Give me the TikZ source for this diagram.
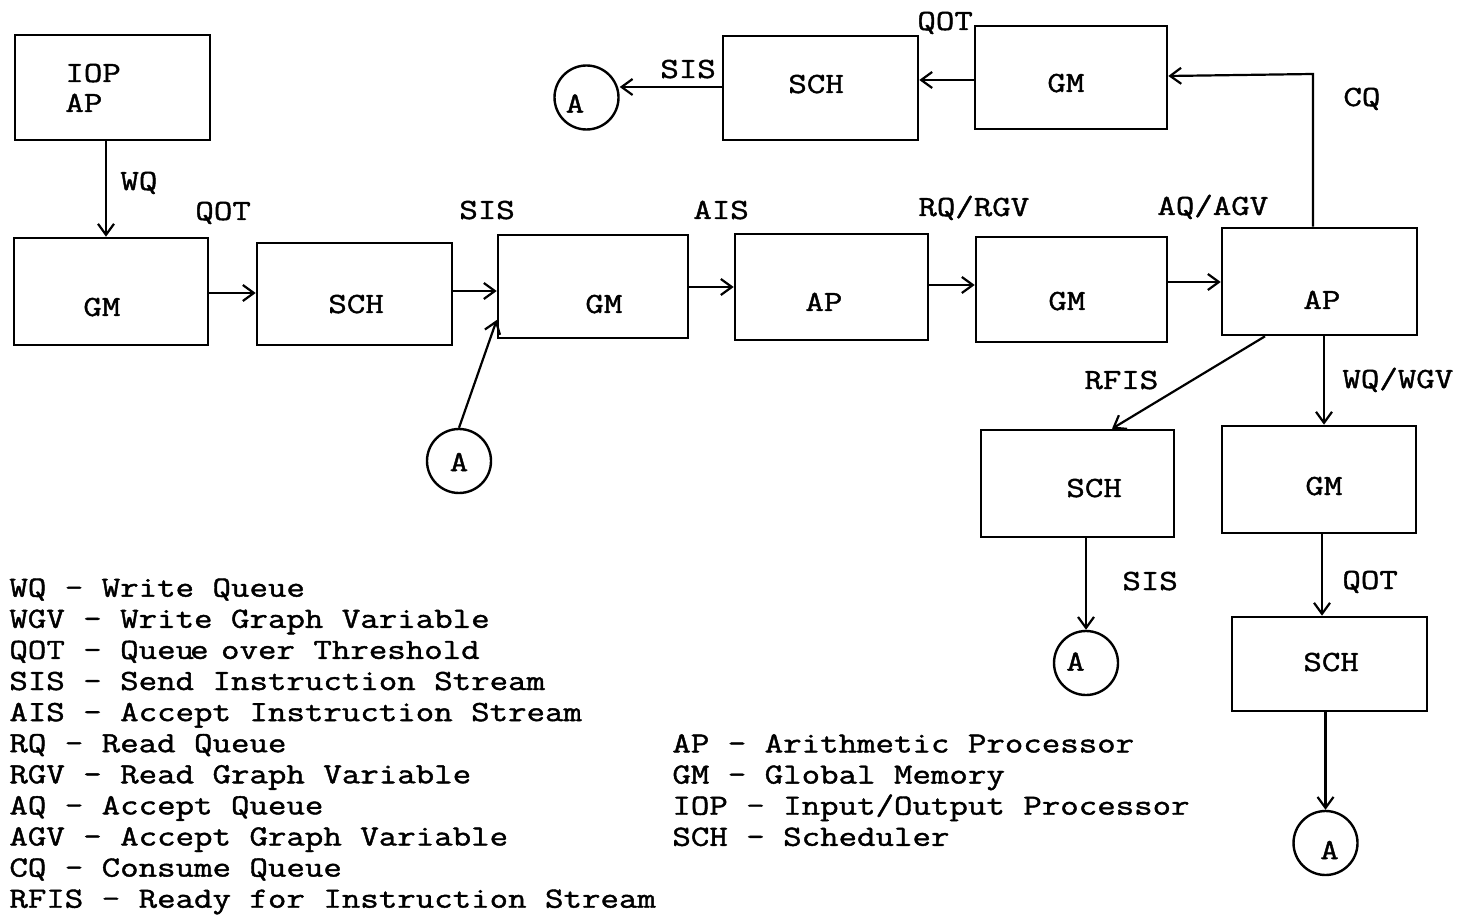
\documentclass[tikz,border=0pt]{standalone}
\usepackage{fontspec}
\newfontfamily\tw[FakeStretch=1.225,FakeBold=1.4]{Latin Modern Mono}
\newcommand\twf{\tw\fontsize{14.64pt}{15.55pt}\selectfont}
\usetikzlibrary{arrows.meta}
\tikzset{
  bx/.style 2 args={draw,line width=1.3pt,inner sep=0pt,minimum width={#1*0.5pt},minimum height={#2*0.5pt}},
  circ/.style={draw,circle,line width=1.2pt,minimum size=32pt,inner sep=0pt},
  txt/.style={font=\twf,inner sep=0pt,anchor=base west},
  ctxt/.style={font=\twf,inner sep=0pt,anchor=center},
  arr/.style={line width=1.1pt,-{Straight Barb[length=5.5pt,width=8pt,line width=1.1pt]}}
}
\begin{document}
\begin{tikzpicture}[x=0.5pt,y=-0.5pt]
\useasboundingbox (0,0) rectangle (1459,924);
\fill[white] (0,0) rectangle (1459,924);

% boxes
\node[bx={195}{105}] (iop) at (112.5,87.5) {};
\node[bx={194}{107}] (gm1) at (111,291.5) {};
\node[bx={195}{102}] (sch1) at (354.5,294) {};
\node[bx={190}{103}] (gm2) at (593,286.5) {};
\node[bx={193}{106}] (ap1) at (831.5,287) {};
\node[bx={191}{105}] (gm3) at (1071.5,289.5) {};
\node[bx={195}{107}] (ap2) at (1319.5,281.5) {};
\node[bx={192}{103}] (gmt) at (1071,77.5) {};
\node[bx={195}{104}] (scht) at (820.5,88) {};
\node[bx={193}{107}] (schr) at (1077.5,483.5) {};
\node[bx={194}{107}] (gmr) at (1319,479.5) {};
\node[bx={195}{94}] (schb) at (1329.5,664) {};

% circles
\node[circ] (A1) at (586.5,97.5) {};
\node[circ] (A2) at (459,461) {};
\node[circ] (A3) at (1086,663) {};
\node[circ] (A4) at (1325.5,843) {};

% box texts
\node[txt] (iopt1) at (65,82) {IOP};
\node[txt] (iopt2) at (65,112) {AP};
\node[txt] (gm1t) at (83,316) {GM};
\node[txt] (sch1t) at (328,313) {SCH};
\node[txt] (gm2t) at (585,313) {GM};
\node[txt] (ap1t) at (805,311) {AP};
\node[txt] (gm3t) at (1048,310) {GM};
\node[txt] (ap2t) at (1303,309) {AP};
\node[txt] (gmtt) at (1047,92) {GM};
\node[txt] (schtt) at (788,93) {SCH};
\node[txt] (schrt) at (1066,497) {SCH};
\node[txt] (gmrt) at (1305,495) {GM};
\node[txt] (schbt) at (1303,671) {SCH};

% circle texts
\node[ctxt] (A1t) at (575,103.5) {A};
\node[ctxt] (A2t) at (459,462) {A};
\node[ctxt] (A3t) at (1075.5,661.5) {A};
\node[ctxt] (A4t) at (1329.5,850) {A};

% connector labels
\node[txt] (lwq) at (120,190) {WQ};
\node[txt] (lqot1) at (195,220) {QOT};
\node[txt] (lsis1) at (459,219) {SIS};
\node[txt] (lais) at (693,219) {AIS};
\node[txt] (lrq) at (918,216) {RQ/RGV};
\node[txt] (laq) at (1157,215) {AQ/AGV};
\node[txt] (lcq) at (1343,106) {CQ};
\node[txt] (lqott) at (917,30) {QOT};
\node[txt] (lsist) at (660,78) {SIS};
\node[txt] (lrfis) at (1084,389) {RFIS};
\node[txt] (lwqw) at (1342,388) {WQ/WGV};
\node[txt] (lsisr) at (1122,590) {SIS};
\node[txt] (lqotr) at (1342,589) {QOT};

% connectors
\draw[arr] (iop.south -| 106,0) -- (gm1.north -| 106,0);
\draw[arr] (gm1.east |- 0,293) -- (sch1.west |- 0,293);
\draw[arr] (sch1.east |- 0,291) -- (gm2.west |- 0,291);
\draw[arr] (A2.north) -- (gm2.west |- 0,320);
\draw[arr] (gm2.east |- 0,287) -- (ap1.west |- 0,287);
\draw[arr] (ap1.east |- 0,285) -- (gm3.west |- 0,285);
\draw[arr] (gm3.east |- 0,282) -- (ap2.west |- 0,282);
\draw[arr] (ap2.north -| 1313,0) -- (1313,74) -- (gmt.east |- 0,76);
\draw[arr] (gmt.west |- 0,80) -- (scht.east |- 0,80);
\draw[arr] (scht.west |- 0,87) -- (A1.east |- 0,87);
\draw[arr] (ap2.south -| 1265,0) -- (schr.north -| 1112,0);
\draw[arr] (ap2.south -| 1324,0) -- (gmr.north -| 1324,0);
\draw[arr] (schr.south -| A3.north) -- (A3.north);
\draw[arr] (gmr.south -| 1322,0) -- (schb.north -| 1322,0);
\draw[arr] (schb.south -| A4.north) -- (A4.north);

% legend left
\node[txt] (lg0) at (9,596.7) {WQ - Write Queue};
\node[txt] (lg1) at (9,627.8) {WGV - Write Graph Variable};
\node[txt] (lg2) at (9,658.9) {QOT - Queu\kern-2pt e\kern-3pt{} over Threshold};
\node[txt] (lg3) at (9,690.0) {SIS - Send Instruction Stream};
\node[txt] (lg4) at (9,721.1) {AIS - Accept Instruction Stream};
\node[txt] (lg5) at (9,752.2) {RQ - Read Queue};
\node[txt] (lg6) at (9,783.3) {RGV - Read Graph Variable};
\node[txt] (lg7) at (9,814.4) {AQ - Accept Queue};
\node[txt] (lg8) at (9,845.5) {AGV - Accept Graph Variable};
\node[txt] (lg9) at (9,876.6) {CQ - Consume Queue};
\node[txt] (lg10) at (9,907.7) {RFIS - Ready for Instruction Stream};

% legend right
\node[txt] (rg0) at (672,752.5) {AP - Arithmetic Processor};
\node[txt] (rg1) at (672,783.6) {GM - Global Memory};
\node[txt] (rg2) at (672,814.7) {IOP - Input/Output Processor};
\node[txt] (rg3) at (672,845.8) {SCH - Scheduler};
\end{tikzpicture}
\end{document}
